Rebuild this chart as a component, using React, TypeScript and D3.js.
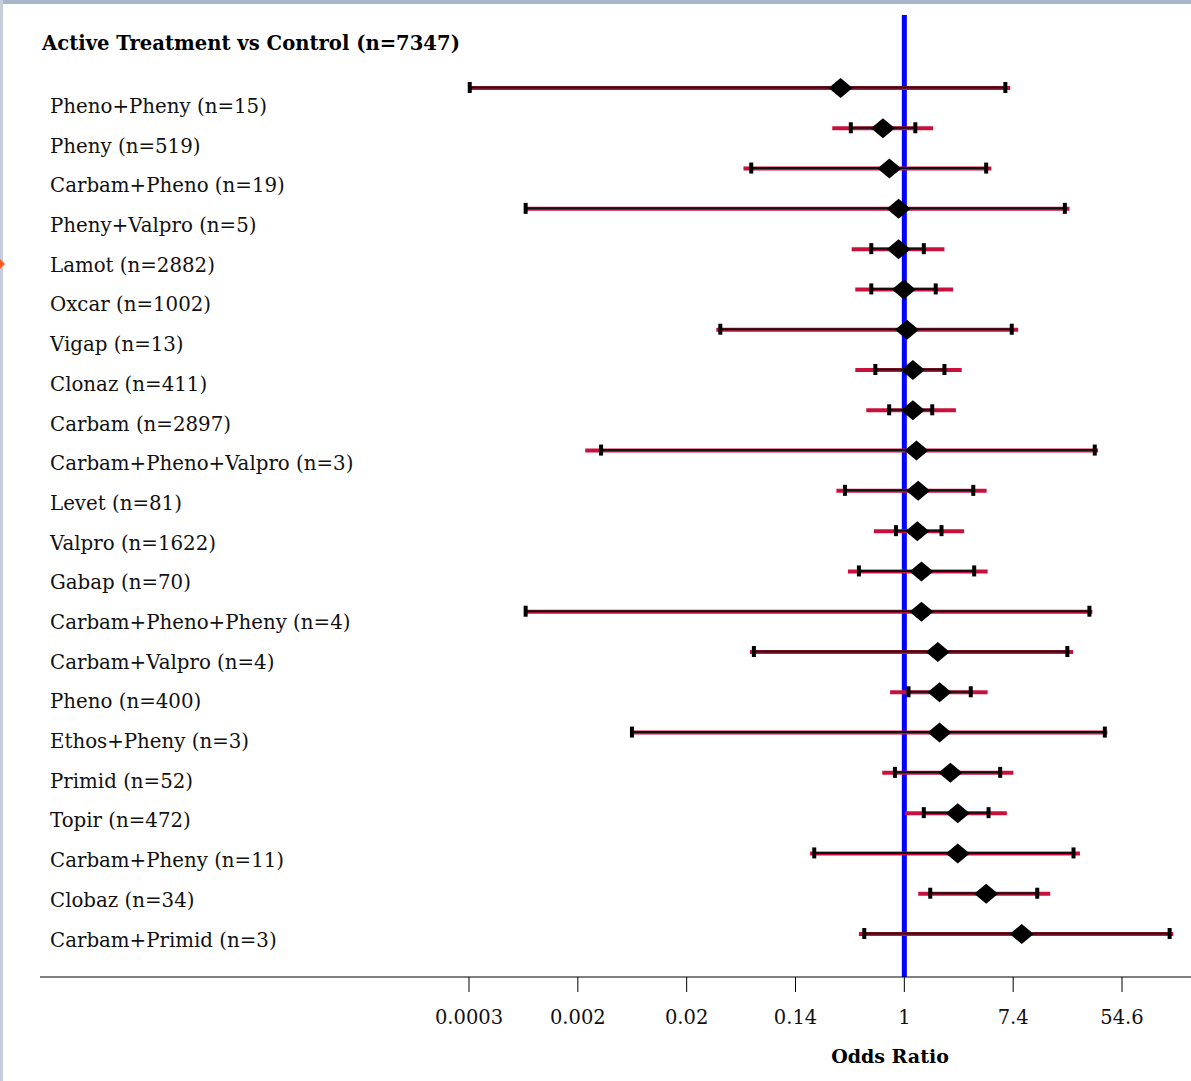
import React from 'react';
import * as d3 from 'd3';

const drugs = [
    'Pheno+Pheny (n=15)', 'Pheny (n=519)', 'Carbam+Pheno (n=19)', 'Pheny+Valpro (n=5)',
    'Lamot (n=2882)', 'Oxcar (n=1002)', 'Vigap (n=13)', 'Clonaz (n=411)', 'Carbam (n=2897)',
    'Carbam+Pheno+Valpro (n=3)', 'Levet (n=81)', 'Valpro (n=1622)', 'Gabap (n=70)',
    'Carbam+Pheno+Pheny (n=4)', 'Carbam+Valpro (n=4)', 'Pheno (n=400)', 'Ethos+Pheny (n=3)',
    'Primid (n=52)', 'Topir (n=472)', 'Carbam+Pheny (n=11)', 'Clobaz (n=34)', 'Carbam+Primid (n=3)'
];
const oddsRatio = [0.31, 0.675, 0.76, 0.90, 0.90, 0.99, 1.05, 1.17, 1.17, 1.25, 1.29, 1.27, 1.37, 1.37, 1.85, 1.91, 1.91, 2.33, 2.67, 2.67, 4.5, 8.65];
// black interval (with end caps)
const ciLower = [0.00034, 0.374, 0.060, 0.00095, 0.545, 0.545, 0.034, 0.587, 0.757, 0.0038, 0.336, 0.857, 0.434, 0.00095, 0.063, 1.08, 0.0067, 0.841, 1.43, 0.191, 1.61, 0.479];
const ciUpper = [6.4, 1.224, 4.5, 19.1, 1.43, 1.78, 7.2, 2.09, 1.67, 33.1, 3.55, 1.98, 3.61, 30.0, 20.0, 3.39, 39.8, 5.82, 4.70, 22.4, 11.5, 131];
// red interval
const priLower = [0.00034, 0.266, 0.052, 0.00094, 0.38, 0.406, 0.0316, 0.406, 0.497, 0.00284, 0.287, 0.571, 0.355, 0.00094, 0.0585, 0.77, 0.0067, 0.667, 1.01, 0.177, 1.29, 0.434];
const priUpper = [7.0, 1.70, 4.95, 20.8, 2.09, 2.45, 8.1, 2.87, 2.58, 35.2, 4.54, 3.0, 4.62, 31.7, 22.2, 4.62, 41.7, 7.42, 6.58, 25.2, 14.6, 140];

const tickLogs = [-8, -6, -4, -2, 0, 2, 4];
const tickLabels = ['0.0003', '0.002', '0.02', '0.14', '1', '7.4', '54.6'];

const W = 1191;
const H = 1081;
const axisY = 977;

export default function App() {
    const x = d3.scaleLog()
        .domain([Math.exp(-8), Math.exp(4)])
        .range([469, 1122]);

    const idx = drugs.map((_, i) => i);
    const yMark = d3.scaleLinear().domain([0, drugs.length - 1]).range([88, 934]);
    const yLabel = d3.scaleLinear().domain([0, drugs.length - 1]).range([107.5, 941]);

    const serif = '"DejaVu Serif", serif';

    return (
        <svg width={W} height={H} style={{ position: 'absolute', left: 0, top: 0, background: '#fff' }}>
            <rect x={0} y={0} width={W} height={4} fill="#a9b6c9" />
            <rect x={0} y={0} width={3} height={H} fill="#c5cdd9" />
            <path d="M0,259 L5,264 L0,269 L-5,264 Z" fill="#ff5a1f" />

            <text x={42} y={44} dominantBaseline="middle" fontFamily={serif} fontWeight="bold" fontSize={19.6} fill="#000">
                Active Treatment vs Control (n=7347)
            </text>

            {idx.map(i => (
                <text key={drugs[i]} x={50} y={yLabel(i)} dominantBaseline="middle" fontFamily={serif} fontSize={19.8} fill="#111">
                    {drugs[i]}
                </text>
            ))}

            <line x1={x(1)} x2={x(1)} y1={15} y2={axisY} stroke="#0000ff" strokeWidth={5} />

            {idx.map(i => {
                const y = yMark(i);
                const r = 12, h = 10;
                const cx = x(oddsRatio[i]);
                return (
                    <g key={'m' + i}>
                        <line x1={x(priLower[i])} x2={x(priUpper[i])} y1={y} y2={y} stroke="#c8103c" strokeWidth={4} />
                        <line x1={x(ciLower[i])} x2={x(ciUpper[i])} y1={y - 0.5} y2={y - 0.5} stroke="#111" strokeWidth={2} />
                        <rect x={x(ciLower[i]) - 2} y={y - 6} width={4} height={11} fill="#000" />
                        <rect x={x(ciUpper[i]) - 2} y={y - 6} width={4} height={11} fill="#000" />
                        <path d={`M${cx - r},${y} L${cx},${y - h} L${cx + r},${y} L${cx},${y + h} Z`} fill="#000" />
                    </g>
                );
            })}

            <line x1={40} x2={W} y1={axisY} y2={axisY} stroke="#000" strokeWidth={1.2} />
            {tickLogs.map((t, i) => (
                <g key={t} transform={`translate(${x(Math.exp(t))},${axisY})`}>
                    <line y1={0} y2={15} stroke="#000" strokeWidth={1} />
                    <text y={41} textAnchor="middle" dominantBaseline="middle" fontFamily={serif} fontSize={19.5} fill="#111">
                        {tickLabels[i]}
                    </text>
                </g>
            ))}
            <text x={890} y={1058} textAnchor="middle" dominantBaseline="middle" fontFamily={serif} fontWeight="bold" fontSize={19} fill="#000">
                Odds Ratio
            </text>
        </svg>
    );
}
